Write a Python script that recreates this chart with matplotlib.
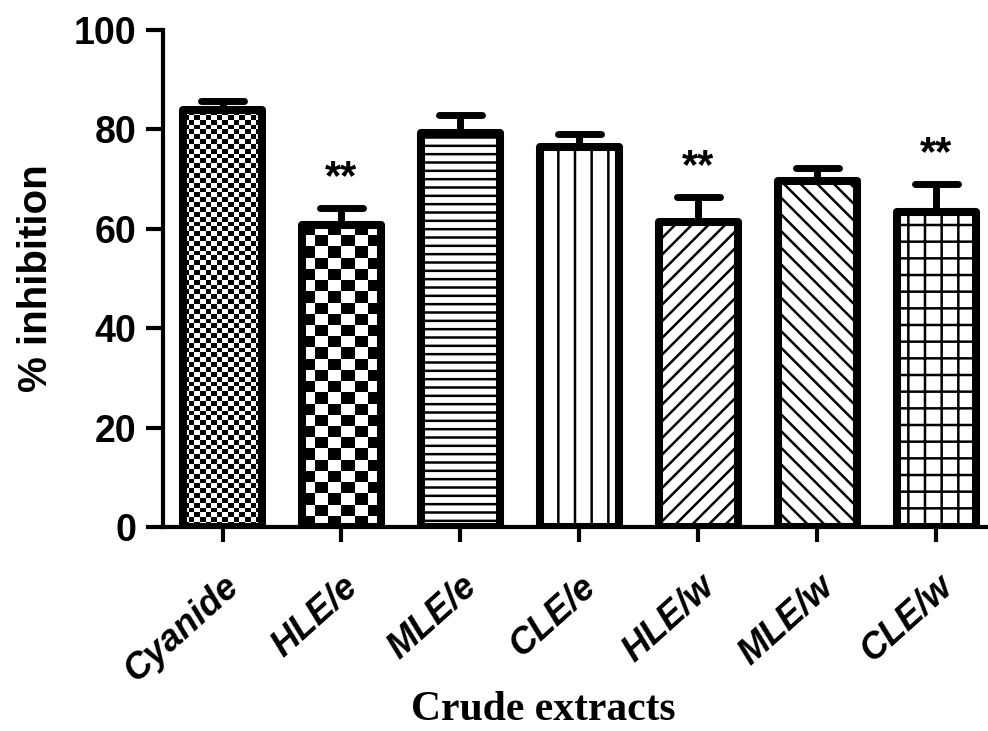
import numpy as np
import matplotlib
matplotlib.use("Agg")
import matplotlib.pyplot as plt
from matplotlib.transforms import ScaledTranslation

# Datos
extractos = ["Cyanide", "HLE/e", "MLE/e", "CLE/e", "HLE/w", "MLE/w", "CLE/w"]
inhibicion = [83.9, 60.8, 79.3, 76.5, 61.4, 69.7, 63.4]
error = [1.9, 3.4, 3.6, 2.5, 4.9, 2.5, 5.6]
significancia = ["", "**", "", "", "**", "", "**"]
yticks = [0, 20, 40, 60, 80, 100]

# Estilo de relleno de cada barra (None = tablero de ajedrez)
tramas = [None, None, "--", "|", "//", "\\\\", "+"]
celda_px = [5.5, 12.7, 0, 0, 0, 0, 0]

plt.rcParams["hatch.linewidth"] = 1.8
plt.rcParams["font.family"] = ["Liberation Sans", "DejaVu Sans"]

fig = plt.figure(figsize=(9.88, 7.31), dpi=100)
ax = fig.add_axes([0.165, 0.279, 0.843, 0.680])

x = np.arange(len(extractos))
ancho = 0.66

# fondo blanco de las barras
ax.bar(x, inhibicion, ancho, color="white", edgecolor="none", zorder=1)

fig.canvas.draw()
px_por_x = ax.transData.transform((1, 0))[0] - ax.transData.transform((0, 0))[0]
px_por_y = ax.transData.transform((0, 1))[1] - ax.transData.transform((0, 0))[1]

# tablero de ajedrez para las dos primeras barras
for i in range(len(extractos)):
    if tramas[i] is not None:
        continue
    nx = max(1, int(round(ancho * px_por_x / celda_px[i])))
    ny = max(1, int(round(inhibicion[i] * px_por_y / celda_px[i])))
    tablero = (np.indices((ny, nx)).sum(axis=0) % 2).astype(float)
    alto = ny * celda_px[i] / px_por_y
    ax.imshow(tablero, cmap="gray", interpolation="nearest", aspect="auto",
              origin="lower", extent=[x[i] - ancho / 2, x[i] + ancho / 2, 0, alto],
              zorder=2)

# barras con borde grueso y tramas
barras = ax.bar(x, inhibicion, ancho, fill=False, edgecolor="black",
                linewidth=5.8, zorder=3)
for b, t in zip(barras, tramas):
    if t is not None:
        b.set_hatch(t)
    b.set_joinstyle("round")

# barras de error (solo hacia arriba)
tope = [m + e for m, e in zip(inhibicion, error)]
ax.vlines(x, inhibicion, tope, colors="black", linewidth=5, zorder=2)
ax.hlines(tope, x - 0.18, x + 0.18, colors="black", linewidth=5,
          capstyle="round", zorder=4)

# asteriscos
for xi, t, s in zip(x, tope, significancia):
    if s:
        ax.text(xi, t + 2.0, s, ha="center", va="bottom", fontsize=30,
                fontweight="bold")

ax.set_xlim(-0.5, 6.5)
ax.set_ylim(0, 100)
ax.set_yticks(yticks)
ax.set_xticks(x)
ax.set_xticklabels(extractos, rotation=42, ha="right", va="top",
                   rotation_mode="anchor", fontsize=26, fontweight="bold",
                   fontstyle="italic")
desplazar = ScaledTranslation(0.22, 0.0, fig.dpi_scale_trans)
for lab in ax.get_xticklabels():
    lab.set_transform(lab.get_transform() + desplazar)
for lab in ax.get_yticklabels():
    lab.set_fontsize(27)
    lab.set_fontweight("bold")

for lado in ["top", "right"]:
    ax.spines[lado].set_visible(False)
for lado in ["left", "bottom"]:
    ax.spines[lado].set_linewidth(3)
ax.tick_params(axis="y", length=12, width=3, pad=7)
ax.tick_params(axis="x", length=11, width=3, pad=19)

ax.set_ylabel("% inhibition", fontsize=29, fontweight="bold", labelpad=14)
ax.set_xlabel("Crude extracts", fontsize=30, fontweight="bold",
              family=["Liberation Serif", "DejaVu Serif"], va="center")
ax.xaxis.set_label_coords(0.456, -0.368)

fig.savefig("out.png", dpi=100)
